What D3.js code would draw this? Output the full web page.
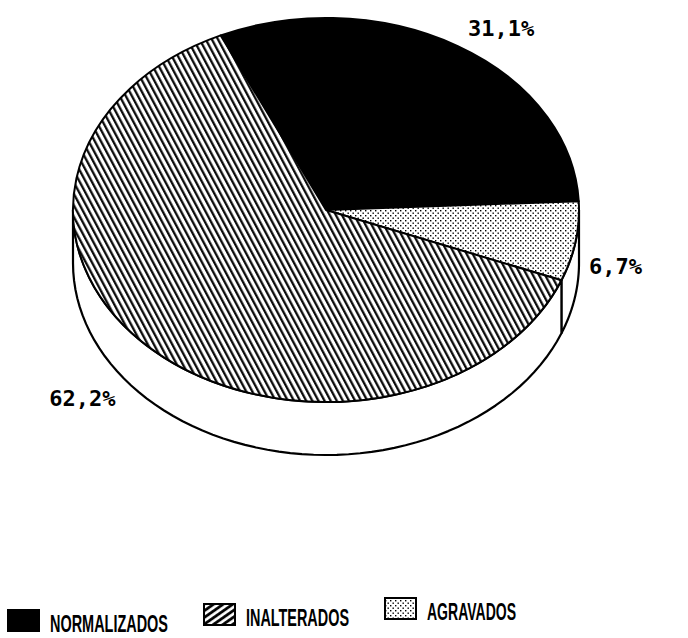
<!DOCTYPE html>
<html lang="es">
  <head>
    <meta charset="utf-8">
    <title>Pie 3D</title>
    <script src="https://d3js.org/d3.v7.min.js"></script>
    <style>
      body { margin: 0; background: #fff; }
    </style>
  </head>
  <body>
  <script>
  const categories = ["NORMALIZADOS", "AGRAVADOS", "INALTERADOS"];
  const values = [31.1, 6.7, 62.2];
  const valueLabels = ["31,1%", "6,7%", "62,2%"];
  const legendOrder = ["NORMALIZADOS", "INALTERADOS", "AGRAVADOS"];

  const width = 688;
  const height = 638;

  // ellipse geometry of the top face
  const cx = 326, cy = 210, rx = 253, ry = 192, depth = 53;
  const startAngle = -24.6 * Math.PI / 180;

  const svg = d3.select(document.body).append('svg')
    .attr('width', width).attr('height', height)
    .style('background', '#fff');

  const defs = svg.append('defs');

  // pie hatch: steep lines going down to the right
  const hatch = defs.append('pattern')
    .attr('id', 'hatch')
    .attr('patternUnits', 'userSpaceOnUse')
    .attr('width', 5.4).attr('height', 10)
    .attr('patternTransform', 'rotate(-28)');
  hatch.append('rect').attr('width', 5.4).attr('height', 10).attr('fill', '#fff');
  hatch.append('line').attr('x1', 1.2).attr('x2', 1.2).attr('y1', 0).attr('y2', 10)
    .attr('stroke', '#000').attr('stroke-width', 2.2);

  // legend hatch: shallower lines going up to the right
  const hatch2 = defs.append('pattern')
    .attr('id', 'hatch2')
    .attr('patternUnits', 'userSpaceOnUse')
    .attr('width', 5.5).attr('height', 10)
    .attr('patternTransform', 'rotate(55)');
  hatch2.append('rect').attr('width', 5.5).attr('height', 10).attr('fill', '#fff');
  hatch2.append('line').attr('x1', 1.5).attr('x2', 1.5).attr('y1', 0).attr('y2', 10)
    .attr('stroke', '#000').attr('stroke-width', 2.8);

  // stipple
  const dots = defs.append('pattern')
    .attr('id', 'dots')
    .attr('patternUnits', 'userSpaceOnUse')
    .attr('width', 5).attr('height', 5);
  dots.append('rect').attr('width', 5).attr('height', 5).attr('fill', '#fff');
  dots.append('rect').attr('x', 0).attr('y', 0).attr('width', 1.4).attr('height', 1.4).attr('fill', '#000');
  dots.append('rect').attr('x', 2.5).attr('y', 2.5).attr('width', 1.4).attr('height', 1.4).attr('fill', '#000');

  const fills = {
    "NORMALIZADOS": "#000",
    "INALTERADOS": "url(#hatch)",
    "AGRAVADOS": "url(#dots)"
  };
  const legendFills = {
    "NORMALIZADOS": "#000",
    "INALTERADOS": "url(#hatch2)",
    "AGRAVADOS": "url(#dots)"
  };

  const data = categories.map((c, i) => ({ cat: c, value: values[i], label: valueLabels[i] }));

  const pie = d3.pie().sort(null).value(d => d.value)
    .startAngle(startAngle).endAngle(startAngle + 2 * Math.PI);
  const arcs = pie(data);

  const px = (a) => cx + rx * Math.sin(a);
  const py = (a, dy) => cy - ry * Math.cos(a) + (dy || 0);

  // side walls (front half only: angles between PI/2 and 3PI/2)
  function wallPath(a0, a1) {
    const lo = Math.max(a0, Math.PI / 2);
    const hi = Math.min(a1, 3 * Math.PI / 2);
    if (hi <= lo) return null;
    const n = 60;
    const pts = [];
    for (let k = 0; k <= n; k++) {
      const a = lo + (hi - lo) * k / n;
      pts.push([px(a), py(a)]);
    }
    for (let k = n; k >= 0; k--) {
      const a = lo + (hi - lo) * k / n;
      pts.push([px(a), py(a, depth)]);
    }
    return d3.line()(pts) + 'Z';
  }

  const g = svg.append('g');

  g.selectAll('path.wall')
    .data(arcs.filter(d => wallPath(d.startAngle, d.endAngle)))
    .enter().append('path')
    .attr('class', 'wall')
    .attr('d', d => wallPath(d.startAngle, d.endAngle))
    .attr('fill', '#fff')
    .attr('stroke', '#000')
    .attr('stroke-width', 2.2)
    .attr('stroke-linejoin', 'round');

  // top face slices
  function slicePath(d) {
    const a0 = d.startAngle, a1 = d.endAngle;
    const large = (a1 - a0) > Math.PI ? 1 : 0;
    return 'M' + cx + ',' + cy +
      'L' + px(a0) + ',' + py(a0) +
      'A' + rx + ',' + ry + ' 0 ' + large + ' 1 ' + px(a1) + ',' + py(a1) + 'Z';
  }

  g.selectAll('path.slice')
    .data(arcs)
    .enter().append('path')
    .attr('class', 'slice')
    .attr('d', slicePath)
    .attr('fill', d => fills[d.data.cat])
    .attr('stroke', '#000')
    .attr('stroke-width', 2)
    .attr('stroke-linejoin', 'round');

  // percentage labels, placed out from the slice mid angle
  const labelK = [[1.33, 1.06, 0], [1.16, 1.0, 33], [1.4, 1.0, 57]];
  g.selectAll('text.pct')
    .data(arcs)
    .enter().append('text')
    .attr('class', 'pct')
    .attr('x', (d, i) => cx + rx * labelK[i][0] * Math.sin((d.startAngle + d.endAngle) / 2))
    .attr('y', (d, i) => cy - ry * labelK[i][1] * Math.cos((d.startAngle + d.endAngle) / 2) + labelK[i][2])
    .attr('text-anchor', 'middle')
    .attr('font-family', 'DejaVu Sans Mono, monospace')
    .attr('font-weight', 'bold')
    .attr('font-size', '22px')
    .attr('fill', '#000')
    .text(d => d.data.label);

  // legend
  const legend = svg.append('g');
  const textWidths = { "NORMALIZADOS": 118, "INALTERADOS": 103, "AGRAVADOS": 89 };
  let lx = 8;
  legendOrder.forEach((c, i) => {
    const base = 632 - i * 6;
    legend.append('rect')
      .attr('x', lx).attr('y', base - 22)
      .attr('width', 31).attr('height', 21)
      .attr('fill', legendFills[c])
      .attr('stroke', '#000').attr('stroke-width', 2);
    legend.append('text')
      .attr('x', lx + 42).attr('y', base)
      .attr('font-family', '"Liberation Sans Narrow", "Liberation Sans", Arial, sans-serif')
      .attr('font-weight', 'bold')
      .attr('font-size', '24px')
      .attr('textLength', textWidths[c])
      .attr('lengthAdjust', 'spacingAndGlyphs')
      .text(c);
    lx += 42 + textWidths[c] + 36;
  });
</script>
  </body>
</html>
